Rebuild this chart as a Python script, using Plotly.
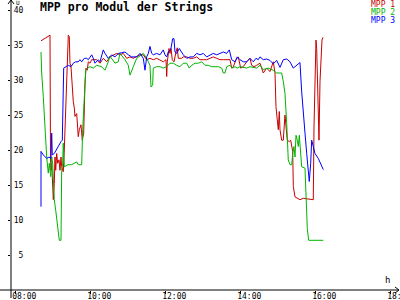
import plotly.graph_objects as go

# ---- data (time in decimal hours, values in V) ----
t_mpp1 = [8.675, 8.755, 8.861, 8.915, 8.928, 8.941, 8.960, 8.976, 9.003, 9.029, 9.048, 9.067, 9.093, 9.120,
          9.155, 9.181, 9.208, 9.227, 9.269, 9.296, 9.341, 9.376, 9.403, 9.429, 9.448, 9.475, 9.509, 9.536,
          9.563, 9.581, 9.627, 9.653, 9.669, 9.696, 9.741, 9.776, 9.813, 9.848, 9.875, 9.909, 9.936, 9.981,
          10.027, 10.160, 10.248, 10.336, 10.427, 10.515, 10.603, 10.693, 10.781, 10.869, 10.960, 11.048,
          11.136, 11.227, 11.315, 11.403, 11.493, 11.581, 11.669, 11.760, 11.848, 11.936, 12.008, 12.027,
          12.043, 12.088, 12.115, 12.141, 12.176, 12.221, 12.275, 12.309, 12.336, 12.427, 12.469, 12.560,
          12.648, 12.736, 12.827, 12.915, 13.003, 13.093, 13.181, 13.269, 13.360, 13.448, 13.536, 13.627,
          13.715, 13.760, 13.803, 13.875, 13.936, 14.000, 14.069, 14.160, 14.248, 14.293, 14.355, 14.427,
          14.515, 14.603, 14.693, 14.781, 14.869, 14.915, 14.941, 14.976, 15.003, 15.029, 15.048, 15.093,
          15.136, 15.181, 15.208, 15.243, 15.296, 15.333, 15.387, 15.403, 15.448, 15.536, 15.581, 15.669,
          15.760, 15.848, 15.936, 15.955, 15.981, 16.008, 16.027, 16.053, 16.088, 16.115, 16.141, 16.168,
          16.195]
v_mpp1 = [35.6, 35.9, 36.3, 36.4, 19.0, 17.1, 18.1, 15.2, 12.9, 15.2, 19.0, 17.1, 19.5, 18.1,
          18.6, 17.1, 19.0, 17.6, 16.9, 20.0, 27.1, 31.0, 36.4, 36.2, 32.4, 31.9, 28.6, 26.9,
          26.0, 24.8, 25.2, 23.3, 21.9, 22.9, 23.6, 21.4, 22.4, 29.5, 31.7, 31.4, 32.6, 32.4,
          32.9, 32.9, 32.4, 33.1, 32.6, 33.3, 33.6, 33.8, 33.6, 33.8, 33.1, 33.3,
          33.1, 33.3, 33.6, 33.6, 32.9, 33.1, 32.9, 33.1, 32.9, 32.6, 32.9, 30.5,
          32.6, 34.5, 33.8, 34.5, 32.9, 32.6, 34.0, 34.6, 33.1, 33.1, 33.3, 33.3,
          33.1, 33.1, 33.3, 32.9, 32.9, 32.9, 33.1, 33.3, 33.1, 32.9, 32.9, 32.9,
          32.9, 31.7, 31.9, 32.9, 33.3, 31.7, 31.9, 32.6, 33.1, 32.1, 31.9, 32.1,
          32.4, 31.0, 31.7, 31.2, 32.6, 31.0, 26.2, 24.3, 22.9, 25.5, 22.9, 21.4,
          21.4, 25.0, 23.3, 21.4, 21.2, 21.4, 19.8, 14.8, 13.3, 13.1, 12.9, 13.1,
          13.0, 12.9, 12.9, 23.3, 31.0, 35.7, 34.5, 30.0, 21.4, 29.8, 34.3, 35.7,
          36.1]

t_mpp2 = [8.675, 8.693, 8.736, 8.781, 8.827, 8.869, 8.896, 8.933, 8.960, 8.987, 9.003, 9.029, 9.067, 9.093,
          9.136, 9.163, 9.208, 9.227, 9.253, 9.269, 9.296, 9.395, 9.493, 9.581, 9.627, 9.669, 9.760, 9.787,
          9.829, 9.867, 9.920, 9.981, 10.069, 10.160, 10.293, 10.381, 10.469, 10.515, 10.648, 10.736, 10.781,
          10.915, 11.003, 11.048, 11.136, 11.227, 11.403, 11.493, 11.581, 11.608, 11.653, 11.669, 11.760,
          11.848, 11.936, 12.027, 12.115, 12.203, 12.293, 12.381, 12.469, 12.560, 12.629, 12.693, 12.781,
          12.869, 12.960, 13.048, 13.136, 13.227, 13.315, 13.403, 13.493, 13.536, 13.581, 13.627, 13.715,
          13.787, 13.848, 13.909, 13.981, 14.069, 14.160, 14.248, 14.427, 14.515, 14.603, 14.736, 14.869,
          14.960, 15.093, 15.136, 15.181, 15.227, 15.269, 15.315, 15.360, 15.387, 15.421, 15.448, 15.475,
          15.509, 15.536, 15.563, 15.600, 15.627, 15.715, 15.741, 15.776, 15.813, 16.203]
v_mpp2 = [34.0, 31.0, 27.6, 22.4, 19.0, 16.7, 18.1, 16.2, 19.0, 18.1, 14.8, 12.9, 11.4, 10.0,
          8.6, 7.1, 7.1, 17.1, 18.1, 21.0, 17.6, 17.9, 17.9, 18.1, 18.3, 17.9, 17.9, 22.9,
          27.6, 31.4, 31.7, 31.9, 31.7, 32.1, 31.9, 31.4, 32.6, 33.4, 32.4, 32.6, 33.8,
          32.9, 32.1, 30.7, 31.9, 33.1, 33.8, 33.1, 32.1, 29.0, 29.3, 31.7, 31.9,
          31.9, 31.7, 31.9, 32.4, 32.4, 32.1, 31.9, 32.4, 32.4, 31.7, 32.1, 32.4,
          32.4, 32.6, 32.1, 32.1, 31.9, 31.9, 31.9, 31.7, 31.0, 31.0, 31.9, 32.1,
          31.7, 31.9, 31.7, 31.9, 31.8, 31.7, 31.9, 31.7, 32.1, 31.5, 31.7, 31.4,
          31.0, 31.0, 29.8, 28.1, 23.8, 18.6, 17.9, 17.9, 19.5, 20.5, 19.0, 22.1,
          21.4, 20.5, 22.1, 20.0, 17.6, 17.4, 13.3, 8.8, 7.1, 7.1]

t_mpp3 = [8.675, 8.675, 8.736, 8.827, 8.888, 8.941, 8.960, 8.976, 9.029, 9.093, 9.155, 9.208, 9.243, 9.280,
          9.360, 9.403, 9.475, 9.536, 9.600, 9.669, 9.715, 9.760, 9.829, 9.893, 9.936, 9.981, 10.027, 10.069,
          10.115, 10.203, 10.248, 10.336, 10.381, 10.469, 10.560, 10.648, 10.736, 10.827, 10.915, 11.003,
          11.093, 11.227, 11.315, 11.403, 11.448, 11.493, 11.536, 11.581, 11.627, 11.669, 11.760, 11.848,
          11.936, 11.981, 12.027, 12.069, 12.133, 12.187, 12.221, 12.248, 12.293, 12.363, 12.427, 12.469,
          12.560, 12.648, 12.736, 12.827, 12.915, 13.003, 13.093, 13.181, 13.269, 13.360, 13.448, 13.536,
          13.627, 13.696, 13.760, 13.848, 13.909, 13.981, 14.069, 14.160, 14.248, 14.336, 14.408, 14.469,
          14.515, 14.603, 14.693, 14.781, 14.869, 14.960, 15.048, 15.136, 15.227, 15.315, 15.403, 15.493,
          15.581, 15.627, 15.669, 15.715, 15.760, 15.803, 15.829, 15.867, 15.893, 15.936, 15.981, 16.069,
          16.115, 16.203]
v_mpp3 = [11.9, 19.8, 19.3, 18.8, 19.0, 18.8, 22.4, 19.3, 19.5, 20.2, 20.7, 21.2, 21.4, 31.7,
          31.9, 32.1, 31.9, 32.4, 32.6, 32.6, 32.9, 32.6, 33.1, 33.1, 32.9, 33.3, 33.6, 33.1,
          32.4, 32.9, 32.6, 34.3, 33.8, 33.1, 33.6, 33.3, 33.8, 33.9, 34.0, 33.6,
          33.3, 33.3, 33.8, 33.1, 31.4, 33.3, 33.8, 34.8, 33.8, 33.6, 33.8, 33.6,
          34.3, 33.6, 33.3, 34.0, 34.3, 35.9, 35.9, 34.0, 33.8, 34.5, 34.0, 33.6,
          33.1, 33.3, 33.3, 33.8, 33.6, 33.8, 33.3, 33.6, 33.8, 33.6, 33.8, 34.0,
          33.8, 34.3, 32.9, 32.6, 33.3, 32.9, 32.6, 32.6, 33.1, 32.6, 33.1, 32.9,
          33.3, 32.9, 33.0, 32.8, 32.3, 32.8, 31.8, 32.9, 33.0, 32.6, 31.7, 32.1,
          32.5, 28.3, 25.9, 22.4, 19.5, 16.7, 15.5, 18.1, 21.4, 20.5, 19.5, 18.8,
          18.3, 17.2]

series_names = ["MPP 1", "MPP 2", "MPP 3"]
series_colors = ["#c80000", "#00b400", "#0000ff"]

x_tickvals = [8, 10, 12, 14, 16, 18]
x_ticktext = ["08:00", "10:00", "12:00", "14:00", "16:00", "18:00"]
y_tickvals = [5, 10, 15, 20, 25, 30, 35, 40]
y_ticktext = ["5", "10", "15", "20", "25", "30", "35", "40"]

title_text = "MPP pro Modul der Strings"
x_unit = "h"
y_unit = "U"

MONO = "DejaVu Sans Mono"

fig = go.Figure()
for t, v, name, col in zip([t_mpp1, t_mpp2, t_mpp3], [v_mpp1, v_mpp2, v_mpp3], series_names, series_colors):
    fig.add_trace(go.Scatter(x=t, y=v, mode="lines", name=name,
                             line=dict(color=col, width=1), showlegend=False))

W, H = 400, 300
ml, mr, mt, mb = 11, 2, 1, 10
pw, ph = W - ml - mr, H - mt - mb

def px_x(px):
    return (px - ml) / pw

def px_y(py):
    return (H - mb - py) / ph

axis_line = dict(color="black", width=1)
shapes = [
    # y axis with overhang and arrow
    dict(type="line", xref="paper", yref="paper", x0=0, x1=0, y0=px_y(298), y1=px_y(0), line=axis_line),
    dict(type="line", xref="paper", yref="paper", x0=px_x(8), x1=0, y0=px_y(4), y1=px_y(0), line=axis_line),
    dict(type="line", xref="paper", yref="paper", x0=px_x(14), x1=0, y0=px_y(4), y1=px_y(0), line=axis_line),
    # x axis with overhang and arrow
    dict(type="line", xref="paper", yref="paper", x0=px_x(0), x1=px_x(399), y0=0, y1=0, line=axis_line),
    dict(type="line", xref="paper", yref="paper", x0=px_x(395), x1=px_x(399), y0=px_y(287), y1=0, line=axis_line),
    dict(type="line", xref="paper", yref="paper", x0=px_x(395), x1=px_x(399), y0=px_y(293), y1=0, line=axis_line),
]

annotations = [
    dict(text="<b>" + title_text + "</b>", xref="paper", yref="paper", x=px_x(39), y=px_y(-1),
         xanchor="left", yanchor="top", showarrow=False, borderpad=0,
         font=dict(family=MONO, size=11.5, color="black")),
    dict(text=y_unit, xref="paper", yref="paper", x=px_x(15), y=px_y(-2),
         xanchor="left", yanchor="top", showarrow=False, borderpad=0,
         font=dict(family=MONO, size=6, color="black")),
    dict(text=x_unit, xref="paper", yref="paper", x=px_x(391), y=px_y(286),
         xanchor="right", yanchor="bottom", showarrow=False, borderpad=0,
         font=dict(family=MONO, size=9, color="black")),
]
for i, (name, col) in enumerate(zip(series_names, series_colors)):
    annotations.append(dict(text=name, xref="paper", yref="paper", x=px_x(396), y=px_y(4.5 + 8 * i),
                            xanchor="right", yanchor="middle", showarrow=False, borderpad=0,
                            font=dict(family=MONO, size=8, color=col)))

fig.update_layout(
    template="none",
    width=W, height=H,
    margin=dict(l=ml, r=mr, t=mt, b=mb, pad=0, autoexpand=False),
    paper_bgcolor="white", plot_bgcolor="white",
    font=dict(family=MONO, size=8, color="black"),
    shapes=shapes, annotations=annotations,
    xaxis=dict(range=[7.875, 7.875 + pw / 37.5], tickvals=x_tickvals, ticktext=x_ticktext,
               automargin=False,
               showgrid=False, zeroline=False, showline=False,
               ticks="outside", ticklen=3, tickcolor="black", tickwidth=1,
               ticklabelposition="outside right", ticklabelshift=-4,
               ticklabeloverflow="allow", ticklabelstandoff=-2,
               tickfont=dict(family=MONO, size=8, color="black")),
    yaxis=dict(range=[0, ph / 7.0], tickvals=y_tickvals, ticktext=y_ticktext,
               automargin=False,
               showgrid=False, zeroline=False, showline=False,
               ticks="outside", ticklen=2, tickcolor="black", tickwidth=1,
               ticklabelstandoff=-17, ticklabeloverflow="allow",
               tickfont=dict(family=MONO, size=8, color="black")),
)

fig.write_html("out.html")
